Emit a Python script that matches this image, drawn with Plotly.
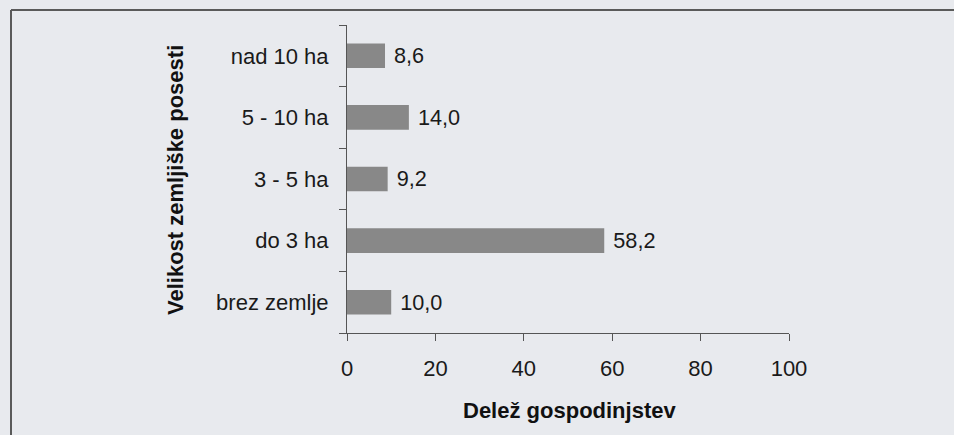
import plotly.graph_objects as go

categories = ["brez zemlje", "do 3 ha", "3 - 5 ha", "5 - 10 ha", "nad 10 ha"]
values = [10.0, 58.2, 9.2, 14.0, 8.6]
value_labels = [" " + f"{v:.1f}".replace(".", ",") for v in values]
x_ticks = [0, 20, 40, 60, 80, 100]

FONT = "Liberation Sans, Arial, sans-serif"
BG = "#e8eaee"
INK = "#1a1a1a"
AX = "#555555"

L, R, T, B = 347, 165, 25, 102
PW = 954 - L - R
PH = 435 - T - B


def px(x):
    return (x - L) / PW


def py(y):
    return (435 - B - y) / PH


fig = go.Figure(go.Bar(
    y=categories, x=values, orientation="h",
    text=value_labels, textposition="outside",
    textfont=dict(family=FONT, size=22, color=INK),
    marker=dict(color="#888888", line=dict(width=0)),
    cliponaxis=False,
))

fig.update_layout(
    width=954, height=435,
    margin=dict(l=L, r=R, t=T, b=B),
    paper_bgcolor=BG, plot_bgcolor=BG,
    bargap=0.6,
    showlegend=False,
    font=dict(family=FONT, size=22, color=INK),
    xaxis=dict(range=[0, 100], tickvals=x_ticks, ticks="outside", ticklen=7,
               tickcolor=AX, showline=True, linecolor=AX, linewidth=1,
               showgrid=False, zeroline=False, ticklabelstandoff=9,
               tickfont=dict(family=FONT, size=22, color=INK)),
    yaxis=dict(categoryorder="array", categoryarray=categories,
               ticks="outside", ticklen=7, tickson="boundaries", tickcolor=AX,
               showline=True, linecolor=AX, linewidth=1, showgrid=False,
               ticklabelstandoff=13,
               tickfont=dict(family=FONT, size=22, color=INK)),
    annotations=[
        dict(text="<b>Delež gospodinjstev</b>", xref="paper", yref="paper",
             x=px(569), y=py(410), showarrow=False,
             xanchor="center", yanchor="middle",
             font=dict(family=FONT, size=22, color="#111111")),
        dict(text="<b>Velikost zemljiške posesti</b>", xref="paper", yref="paper",
             x=px(175), y=py(180), showarrow=False,
             textangle=-90, xanchor="center", yanchor="middle",
             font=dict(family=FONT, size=22, color="#111111")),
    ],
    shapes=[
        dict(type="line", xref="paper", yref="paper",
             x0=px(11), x1=px(960), y0=py(10), y1=py(10),
             line=dict(color="#5a5a5a", width=2)),
        dict(type="line", xref="paper", yref="paper",
             x0=px(11), x1=px(11), y0=py(10), y1=py(440),
             line=dict(color="#5a5a5a", width=2)),
    ],
)

fig.write_html("out.html", config={"displayModeBar": False},
               post_script="document.body.style.margin='0';document.body.style.overflow='hidden';")
